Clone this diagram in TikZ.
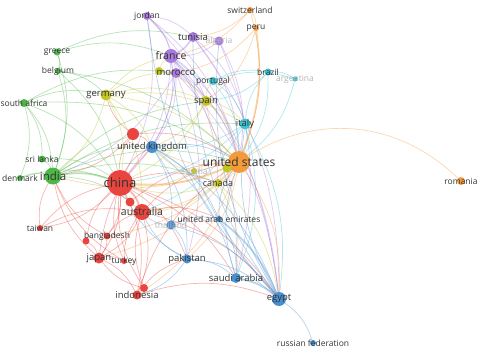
\documentclass[tikz,border=0pt]{standalone}
\usepackage{fontspec}
\setmainfont{Open Sans}
\usepackage{xcolor}
\definecolor{cred}{HTML}{E8453F}
\definecolor{cgrn}{HTML}{4DB848}
\definecolor{cblu}{HTML}{4A90D0}
\definecolor{cyel}{HTML}{C3C524}
\definecolor{cpur}{HTML}{A97BDB}
\definecolor{ccya}{HTML}{3FC3D3}
\definecolor{cora}{HTML}{F39A3B}
\definecolor{labgray}{HTML}{333333}
\definecolor{fadegray}{HTML}{B4B4B4}
\pgfdeclarelayer{edges}
\pgfsetlayers{edges,main}

\begin{document}
\begin{tikzpicture}[x=1pt,y=-1pt,
  country/.style={circle,inner sep=0pt,outer sep=0pt},
  lab/.style={text=labgray,inner sep=0pt},
  link/.style={line width=0.7pt,opacity=0.4}]
\useasboundingbox (0,0) rectangle (480,351);
\foreach \n/\x/\y/\r/\c in {jordan/147/16/8/cpur, tunisia/193/37/10/cpur, algeria/219/41/9/cpur,
  france/171/56/14/cpur, ylwa/159/71/8/cyel, morocco/176/73/10/cpur, greece/57/52/7/cgrn,
  belgium/58/71/6/cgrn, germany/106/95/11/cyel, safrica/24/103/8/cgrn, portugal/213/81/8/ccya,
  spain/206/101/10/cyel, switz/250/10/6/cora, peru/256/28/6/cora, brazil/268/72/7/ccya,
  argentina/295/79/5/ccya, italy/245/124/11/ccya, reda/133/134/12/cred, uk/152/147/12/cblu,
  usa/239/162/22/cora, ylwb/227/168/9/cyel, austria/194/171/6/cyel, canada/218/183/8/cyel,
  srilanka/42/159/7/cgrn, denmark/20/178/6/cgrn, india/53/176/17/cgrn, china/120/183/26/cred,
  redb/130/202/9/cred, australia/142/212/16/cred, thailand/171/225/9/cblu, uae/219/219/6/cblu,
  taiwan/40/228/6/cred, redc/86/241/7/cred, bangladesh/107/236/7/cred, japan/99/258/11/cred,
  turkey/124/261/6/cred, pakistan/187/259/9/cblu, redd/144/288/8/cred, indonesia/137/295/9/cred,
  saudi/236/278/10/cblu, egypt/279/299/14/cblu, russia/313/343/6/cblu, romania/461/181/8/cora}
  {\node[country,fill=\c,minimum size=\r pt] (\n) at (\x,\y) {};}
\begin{pgfonlayer}{edges}
\foreach \a/\b/\c in {jordan/france/cpur, jordan/morocco/cpur, jordan/tunisia/cpur, jordan/usa/cpur,
  jordan/egypt/cpur, jordan/china/cpur, tunisia/algeria/cpur, algeria/france/cpur,
  france/morocco/cpur, morocco/usa/cpur, france/usa/cpur, france/uk/cpur, morocco/china/cpur,
  france/china/cpur, tunisia/egypt/cpur, algeria/saudi/cpur, france/spain/cpur, morocco/spain/cpur,
  tunisia/usa/cpur, morocco/uk/cpur, france/egypt/cpur, morocco/pakistan/cpur, algeria/usa/cpur,
  france/canada/cpur, morocco/india/cpur, tunisia/italy/cpur, morocco/egypt/cpur, france/saudi/cpur,
  greece/belgium/cgrn, greece/india/cgrn, belgium/india/cgrn, belgium/germany/cgrn,
  safrica/india/cgrn, safrica/srilanka/cgrn, safrica/denmark/cgrn, greece/tunisia/cgrn,
  safrica/germany/cgrn, safrica/usa/cgrn, india/usa/cgrn, india/uk/cgrn, srilanka/india/cgrn,
  denmark/india/cgrn, india/australia/cgrn, india/canada/cgrn, belgium/usa/cgrn, greece/france/cgrn,
  belgium/china/cgrn, srilanka/china/cgrn, india/spain/cgrn, safrica/china/cgrn, safrica/morocco/cgrn,
  india/italy/cgrn, denmark/china/cgrn,
  germany/spain/cyel, germany/usa/cyel, germany/china/cyel, germany/uk/cyel, germany/france/cyel,
  germany/morocco/cyel, spain/usa/cyel, spain/italy/cyel, spain/portugal/cyel, canada/usa/cyel,
  austria/usa/cyel, canada/china/cyel, austria/uk/cyel, germany/india/cyel, spain/uk/cyel,
  canada/egypt/cyel, ylwa/france/cyel, ylwa/spain/cyel, ylwb/usa/cyel, germany/australia/cyel,
  spain/china/cyel, canada/australia/cyel, germany/italy/cyel, canada/saudi/cyel, austria/china/cyel,
  portugal/brazil/ccya, brazil/argentina/ccya, portugal/argentina/ccya, italy/usa/ccya,
  italy/brazil/ccya, portugal/italy/ccya, italy/uk/ccya, italy/china/ccya, brazil/usa/ccya,
  argentina/usa/ccya, portugal/usa/ccya, italy/egypt/ccya, brazil/spain/ccya, portugal/france/ccya,
  italy/saudi/ccya, italy/australia/ccya,
  switz/peru/cora, switz/usa/cora, usa/uk/cora, usa/australia/cora, usa/canada/cora,
  usa/egypt/cora, switz/france/cora, peru/morocco/cora, usa/japan/cora, usa/indonesia/cora,
  switz/tunisia/cora, usa/pakistan/cora, usa/spain/cora, peru/spain/cora, usa/india/cora,
  usa/bangladesh/cora,
  china/uk/cred, china/japan/cred, china/bangladesh/cred, china/taiwan/cred, china/indonesia/cred,
  australia/japan/cred, australia/indonesia/cred, japan/indonesia/cred, bangladesh/japan/cred,
  turkey/china/cred, china/reda/cred, reda/uk/cred, australia/usa/cred, china/pakistan/cred,
  taiwan/india/cred, japan/turkey/cred, indonesia/pakistan/cred, indonesia/egypt/cred,
  china/saudi/cred, australia/uae/cred, bangladesh/australia/cred, reda/usa/cred, china/canada/cred,
  redb/china/cred, redc/china/cred, redc/japan/cred, redd/australia/cred, redd/china/cred,
  turkey/australia/cred, reda/germany/cred, taiwan/australia/cred, japan/india/cred,
  bangladesh/india/cred, turkey/india/cred, redb/usa/cred, china/egypt/cred, australia/egypt/cred,
  reda/india/cred, redd/japan/cred, indonesia/usa/cred, japan/uk/cred, taiwan/china/cred,
  uk/usa/cblu, uk/pakistan/cblu, uk/egypt/cblu, uae/saudi/cblu, pakistan/saudi/cblu,
  pakistan/egypt/cblu, egypt/russia/cblu, thailand/pakistan/cblu, thailand/egypt/cblu,
  thailand/uae/cblu, uk/saudi/cblu, egypt/algeria/cblu, egypt/tunisia/cblu, pakistan/australia/cblu,
  uae/usa/cblu, thailand/australia/cblu, uk/uae/cblu, pakistan/indonesia/cblu, egypt/italy/cblu,
  egypt/jordan/cblu, saudi/usa/cblu, uk/thailand/cblu, egypt/france/cblu, pakistan/china/cblu}
  {\draw[link,draw=\c] (\a) to[bend left=18] (\b);}
\foreach \a/\b/\c in {peru/usa/cora, china/australia/cred, usa/china/cora, saudi/egypt/cblu,
  uae/egypt/cblu, tunisia/france/cpur, india/china/cgrn}
  {\draw[link,draw=\c,line width=1.7pt] (\a) to[bend left=14] (\b);}
\draw[link,draw=cora] (usa) to[bend left=38] (romania);
\end{pgfonlayer}
\foreach \n/\t/\s in {jordan/jordan/8.5, tunisia/tunisia/9.5, france/france/10.5, morocco/morocco/9.5,
  greece/greece/8.5, belgium/belgium/8.5, germany/germany/9.5, safrica/south africa/8.5,
  portugal/portugal/8.5, spain/spain/9.5, switz/switzerland/8.5, peru/peru/8.5, brazil/brazil/8.5,
  italy/italy/9.5, uk/united kingdom/9.5, usa/united states/12, canada/canada/9,
  srilanka/sri lanka/8.5, denmark/denmark/8.5, india/india/11.5, china/china/13,
  australia/australia/10.5, uae/united arab emirates/8.5, taiwan/taiwan/8.5,
  bangladesh/bangladesh/8.5, japan/japan/9.5, turkey/turkey/8.5, pakistan/pakistan/9.5,
  indonesia/indonesia/9.5, saudi/saudi arabia/9.5, egypt/egypt/9.5, russia/russian federation/8.5,
  romania/romania/8.5}
  {\node[lab,font=\fontsize{\s}{\s}\selectfont] at (\n) {\t};}
\foreach \n/\t in {algeria/algeria, argentina/argentina, austria/austria, thailand/thailand}
  {\node[lab,text=fadegray,font=\fontsize{8.5}{8.5}\selectfont] at (\n) {\t};}
\end{tikzpicture}
\end{document}
